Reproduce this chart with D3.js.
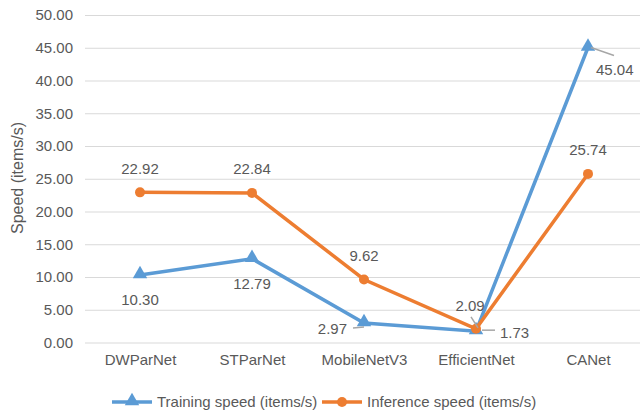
<!DOCTYPE html>
<html>
<head>
<meta charset="utf-8">
<script src="https://cdn.jsdelivr.net/npm/d3@7"></script>
<style>
  body { margin: 0; background: #fff; }
  text { font-family: "Liberation Sans", Arial, sans-serif; fill: #595959; }
</style>
</head>
<body>
<script>
// chart data
var models = ["DWParNet", "STParNet", "MobileNetV3", "EfficientNet", "CANet"];
var trainSpeed = [10.30, 12.79, 2.97, 1.73, 45.04];
var inferSpeed = [22.92, 22.84, 9.62, 2.09, 25.74];
var yTicks = [0, 5, 10, 15, 20, 25, 30, 35, 40, 45, 50];
var seriesNames = ["Training speed (items/s)", "Inference speed (items/s)"];

var width = 644, height = 411;
var blue = "#5b9bd5", orange = "#ed7d31";

var svg = d3.select("body").append("svg")
    .attr("width", width)
    .attr("height", height);

var x = d3.scalePoint().domain(models).range([84, 644]).padding(0.5);
var y = d3.scaleLinear().domain([0, 50]).range([342.5, 15]);

// gridlines + y labels
var yAxis = d3.axisLeft(y).tickValues(yTicks).tickFormat(d3.format(".2f"))
    .tickSize(-(640 - 85)).tickPadding(12);
var gy = svg.append("g").attr("transform", "translate(85,0)").call(yAxis);
gy.select(".domain").remove();
gy.selectAll(".tick line").attr("stroke", "#d9d9d9").attr("stroke-width", 1);
gy.selectAll(".tick text").style("font-size", "15px").attr("fill", "#595959");

// x labels
var xAxis = d3.axisBottom(x).tickSize(0).tickPadding(12);
var gx = svg.append("g").attr("transform", "translate(0,342.5)").call(xAxis);
gx.select(".domain").remove();
gx.selectAll(".tick text").style("font-size", "15px").attr("fill", "#595959");

// y title
svg.append("text")
    .attr("transform", "translate(23,178) rotate(-90)")
    .attr("text-anchor", "middle")
    .style("font-size", "16px")
    .text("Speed (items/s)");

var line = d3.line().x(function(d, i) { return x(models[i]); }).y(function(d) { return y(d); });
var tri = d3.symbol().type(d3.symbolTriangle).size(90);

svg.append("path").datum(trainSpeed).attr("d", line)
    .attr("fill", "none").attr("stroke", blue).attr("stroke-width", 3.5);
svg.append("path").datum(inferSpeed).attr("d", line)
    .attr("fill", "none").attr("stroke", orange).attr("stroke-width", 3.5);

svg.selectAll(".tri").data(trainSpeed).enter().append("path")
    .attr("d", tri)
    .attr("transform", function(d, i) { return "translate(" + x(models[i]) + "," + (y(d) - 1) + ")"; })
    .attr("fill", blue);
svg.selectAll(".dot").data(inferSpeed).enter().append("circle")
    .attr("cx", function(d, i) { return x(models[i]); })
    .attr("cy", function(d) { return y(d); })
    .attr("r", 5).attr("fill", orange);

// label placement (manual in the original)
var trainPlace = [
  { dx: 0, dy: 25, anchor: "middle" },
  { dx: 0, dy: 25, anchor: "middle" },
  { dx: -17, dy: 6, anchor: "end", lead: [[-11, 5], [0, 4]] },
  { dx: 24, dy: 2, anchor: "start", lead: [[6, -1], [19, -1]] },
  { dx: 8, dy: 22, anchor: "start", lead: [[3, 0], [26, 8]] }
];
var inferPlace = [
  { dx: 0, dy: -24, anchor: "middle" },
  { dx: 0, dy: -24, anchor: "middle" },
  { dx: 0, dy: -24, anchor: "middle" },
  { dx: -6, dy: -23, anchor: "middle", lead: [[-5, -12], [2, -1]] },
  { dx: 0, dy: -24, anchor: "middle" }
];

function addLabels(vals, place) {
  vals.forEach(function(v, i) {
    var px = x(models[i]), py = y(v), p = place[i];
    if (p.lead) {
      svg.append("line")
        .attr("x1", px + p.lead[0][0]).attr("y1", py + p.lead[0][1])
        .attr("x2", px + p.lead[1][0]).attr("y2", py + p.lead[1][1])
        .attr("stroke", "#a6a6a6").attr("stroke-width", 1.5);
    }
    svg.append("text")
      .attr("x", px + p.dx).attr("y", py + p.dy)
      .attr("dy", "0.35em")
      .attr("text-anchor", p.anchor)
      .style("font-size", "15px")
      .text(d3.format(".2f")(v));
  });
}
addLabels(trainSpeed, trainPlace);
addLabels(inferSpeed, inferPlace);

// legend
var legend = svg.append("g").attr("transform", "translate(0,402)");
var legX = [112, 322];
[blue, orange].forEach(function(c, i) {
  var g = legend.append("g").attr("transform", "translate(" + legX[i] + ",0)");
  g.append("line").attr("x1", 0).attr("x2", 40).attr("stroke", c).attr("stroke-width", 3.5);
  if (i == 0) {
    g.append("path").attr("d", tri).attr("transform", "translate(20,-1)").attr("fill", c);
  } else {
    g.append("circle").attr("cx", 20).attr("r", 5).attr("fill", c);
  }
  g.append("text").attr("x", 45).attr("dy", "0.35em")
    .style("font-size", "15px").text(seriesNames[i]);
});
</script>
</body>
</html>
